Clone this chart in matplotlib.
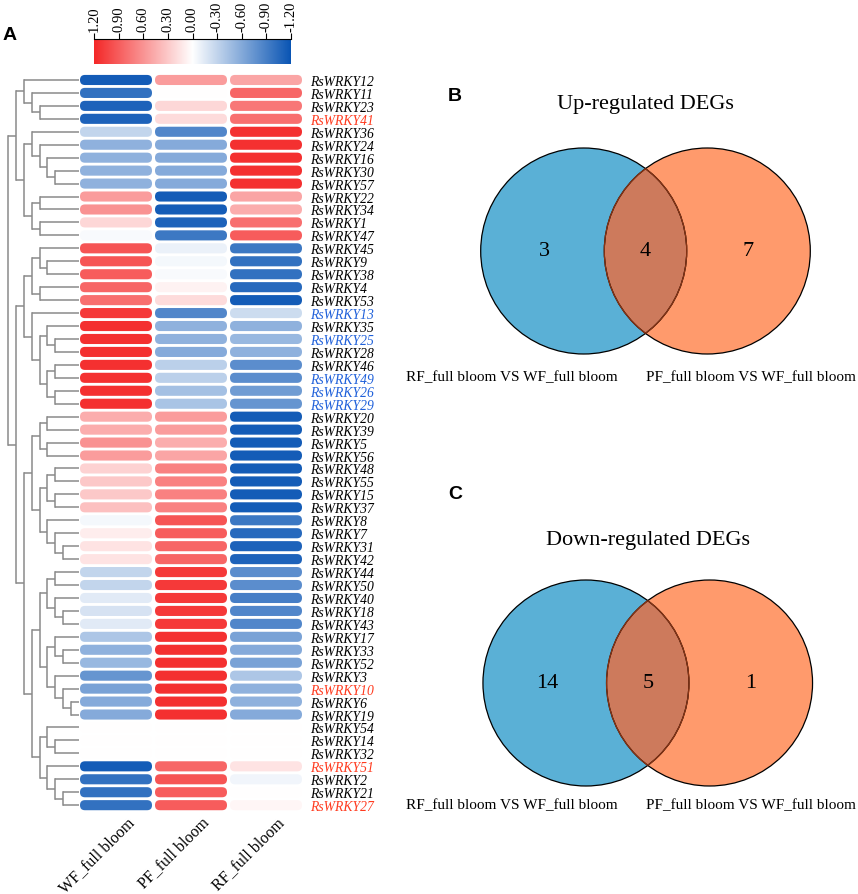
import numpy as np
import matplotlib
matplotlib.use("Agg")
import matplotlib.pyplot as plt
from matplotlib.colors import LinearSegmentedColormap, Normalize
from matplotlib.patches import FancyBboxPatch, Circle

plt.rcParams["axes.unicode_minus"] = False
SERIF = "Liberation Serif"
SANS = "Liberation Sans"

# ---- heatmap data (row order as shown, top to bottom) ----
genes = ["RsWRKY12", "RsWRKY11", "RsWRKY23", "RsWRKY41", "RsWRKY36", "RsWRKY24",
         "RsWRKY16", "RsWRKY30", "RsWRKY57", "RsWRKY22", "RsWRKY34", "RsWRKY1",
         "RsWRKY47", "RsWRKY45", "RsWRKY9", "RsWRKY38", "RsWRKY4", "RsWRKY53",
         "RsWRKY13", "RsWRKY35", "RsWRKY25", "RsWRKY28", "RsWRKY46", "RsWRKY49",
         "RsWRKY26", "RsWRKY29", "RsWRKY20", "RsWRKY39", "RsWRKY5", "RsWRKY56",
         "RsWRKY48", "RsWRKY55", "RsWRKY15", "RsWRKY37", "RsWRKY8", "RsWRKY7",
         "RsWRKY31", "RsWRKY42", "RsWRKY44", "RsWRKY50", "RsWRKY40", "RsWRKY18",
         "RsWRKY43", "RsWRKY17", "RsWRKY33", "RsWRKY52", "RsWRKY3", "RsWRKY10",
         "RsWRKY6", "RsWRKY19", "RsWRKY54", "RsWRKY14", "RsWRKY32", "RsWRKY51",
         "RsWRKY2", "RsWRKY21", "RsWRKY27"]
red_genes = ["RsWRKY41", "RsWRKY10", "RsWRKY51", "RsWRKY27"]
blue_genes = ["RsWRKY13", "RsWRKY25", "RsWRKY49", "RsWRKY26", "RsWRKY29"]
samples = ["WF_full bloom", "PF_full bloom", "RF_full bloom"]

wf = [-1.15, -1.0, -1.1, -1.1, -0.3, -0.55, -0.55, -0.55, -0.55, 0.55, 0.6, 0.22,
      -0.03, 0.95, 0.95, 0.9, 0.85, 0.8, 1.1, 1.15, 1.15, 1.15, 1.15, 1.15,
      1.15, 1.15, 0.45, 0.45, 0.6, 0.55, 0.25, 0.3, 0.3, 0.35, -0.05, 0.1,
      0.15, 0.15, -0.3, -0.3, -0.15, -0.2, -0.15, -0.4, -0.55, -0.5, -0.75, -0.65,
      -0.6, -0.6, 0.0, 0.0, 0.0, -1.15, -1.0, -1.0, -1.0]
pf = [0.55, 0.0, 0.22, 0.2, -0.85, -0.6, -0.6, -0.6, -0.6, -1.15, -1.15, -1.1,
      -0.95, -0.1, -0.05, -0.03, 0.07, 0.2, -0.85, -0.55, -0.55, -0.6, -0.33, -0.33,
      -0.45, -0.42, 0.55, 0.55, 0.45, 0.5, 0.7, 0.7, 0.7, 0.7, 0.95, 0.9,
      0.85, 0.85, 1.1, 1.1, 1.1, 1.1, 1.1, 1.15, 1.15, 1.15, 1.15, 1.15,
      1.15, 1.15, 0.0, 0.0, 0.0, 0.85, 0.95, 0.9, 0.9]
rf = [0.5, 0.85, 0.75, 0.8, 1.15, 1.15, 1.15, 1.15, 1.15, 0.5, 0.45, 0.8,
      0.9, -0.95, -1.0, -1.0, -1.05, -1.15, -0.25, -0.55, -0.5, -0.55, -0.8, -0.8,
      -0.7, -0.75, -1.15, -1.15, -1.15, -1.15, -1.15, -1.15, -1.15, -1.15, -0.95, -1.05,
      -1.1, -1.1, -0.8, -0.8, -0.9, -0.85, -0.85, -0.65, -0.6, -0.65, -0.4, -0.55,
      -0.55, -0.6, 0.0, 0.0, 0.0, 0.15, -0.07, 0.0, 0.05]

# row dendrogram, leaves are row indices
tree = [
    [[0, [1, [2, 3]]], [[4, [5, [6, [7, 8]]]], [[9, 10], [11, 12]]]],
    [
        [[[13, [14, 15]], [16, 17]], [18, [[19, [20, 21]], [[22, 23], [24, 25]]]]],
        [
            [[[26, 27], [28, 29]], [[[30, 31], [32, 33]], [34, [35, [36, 37]]]]],
            [
                [[[38, 39], [40, [41, 42]]], [[43, [44, 45]], [46, [47, [48, 49]]]]],
                [[50, [51, 52]], [53, [54, [55, 56]]]],
            ],
        ],
    ],
]
LEAF_DEPTH = 9

# ---- venn data ----
venn_sets = ["RF_full bloom VS WF_full bloom", "PF_full bloom VS WF_full bloom"]
up_counts = [3, 4, 7]
down_counts = [14, 5, 1]

W, H = 858, 895
fig = plt.figure(figsize=(W / 100, H / 100), dpi=100)


def axes_px(x0, y0, x1, y1):
    return fig.add_axes([x0 / W, 1 - y1 / H, (x1 - x0) / W, (y1 - y0) / H])


cmap = LinearSegmentedColormap.from_list(
    "rwb", ["#0A55B4", "#FFFFFF", "#F42828"])
norm = Normalize(vmin=-1.2, vmax=1.2)

# ---- heatmap ----
n = len(genes)
top_px, row_px = 74.5, 12.95
ax = axes_px(78.5, top_px, 303.5, top_px + n * row_px)
mat = np.array([wf, pf, rf]).T
for i in range(n):
    for j in range(3):
        box = FancyBboxPatch((j - 0.48, i - 0.39), 0.96, 0.78,
                             boxstyle="round,pad=0,rounding_size=0.066",
                             mutation_aspect=75 / row_px,
                             fc=cmap(norm(mat[i, j])), ec="none")
        ax.add_patch(box)
ax.set_xlim(-0.5, 2.5)
ax.set_ylim(n - 0.5, -0.5)
for s in ax.spines.values():
    s.set_visible(False)
ax.yaxis.tick_right()
ax.set_yticks(range(n))
ax.set_yticklabels(genes, fontsize=9.8, family=SERIF, style="italic")
ax.tick_params(axis="y", length=0, pad=5)
for lab in ax.get_yticklabels():
    g = lab.get_text()
    if g in red_genes:
        lab.set_color("#FF3A1E")
    elif g in blue_genes:
        lab.set_color("#1F60DA")
ax.set_xticks([])
for j, name in enumerate(samples):
    ax.annotate(name, xy=(j + 0.1, 0), xycoords=("data", "axes fraction"),
                xytext=(2, -1.5), textcoords="offset points",
                rotation=45, ha="right", va="top", rotation_mode="anchor",
                fontsize=11.5, family=SERIF)

# ---- dendrogram ----
dax = axes_px(8.3, top_px, 78.8, top_px + n * row_px)
dax.set_xlim(0, LEAF_DEPTH)
dax.set_ylim(n - 0.5, -0.5)
dax.axis("off")
LC = "#8A8A8A"


def draw_node(node, depth):
    if isinstance(node, int):
        return node, LEAF_DEPTH
    ys = []
    for child in node:
        yc, xc = draw_node(child, depth + 1)
        dax.plot([depth, xc], [yc, yc], color=LC, lw=1.1,
                 solid_capstyle="butt", clip_on=False)
        ys.append(yc)
    dax.plot([depth, depth], [ys[0], ys[1]], color=LC, lw=1.1,
             solid_capstyle="projecting", clip_on=False)
    return sum(ys) / 2, depth


draw_node(tree, 0)

# ---- colour bar ----
cax = axes_px(94, 40, 291, 65)
grad = np.linspace(1.2, -1.2, 256)[None, :]
cax.imshow(grad, aspect="auto", cmap=cmap, norm=norm,
           extent=[1.2, -1.2, 0, 1])
cax.set_xlim(1.2, -1.2)
cticks = [1.2, 0.9, 0.6, 0.3, 0.0, -0.3, -0.6, -0.9, -1.2]
cax.set_xticks(cticks)
cax.set_xticklabels(["%.2f" % t for t in cticks], rotation=90,
                    fontsize=10.5, family=SERIF)
cax.xaxis.tick_top()
cax.tick_params(axis="x", length=4, width=0.8, pad=2)
cax.set_yticks([])
for k, s in cax.spines.items():
    s.set_visible(k == "top")
cax.spines["top"].set_linewidth(0.8)

# ---- venn diagrams ----
R_PX = 103.0
SEP = 1.2
BLUE, ORANGE, MIX = "#5AB0D6", "#FF9A6C", "#CD7A5C"


def venn(cx, cy, title, title_y, counts, label_y):
    vax = axes_px(cx - 200, cy - 125, cx + 200, cy + 125)
    vax.set_xlim(-200 / R_PX, 200 / R_PX)
    vax.set_ylim(-125 / R_PX, 125 / R_PX)
    vax.set_aspect("equal")
    vax.axis("off")
    left = Circle((-SEP / 2, 0), 1, fc=BLUE, ec="none")
    right = Circle((SEP / 2, 0), 1, fc=ORANGE, ec="none")
    vax.add_patch(left)
    vax.add_patch(right)
    lens = Circle((SEP / 2, 0), 1, fc=MIX, ec="none")
    vax.add_patch(lens)
    lens.set_clip_path(left)
    for c in (-SEP / 2, SEP / 2):
        vax.add_patch(Circle((c, 0), 1, fc="none", ec="black", lw=0.9))
    arc1 = Circle((-SEP / 2, 0), 1, fc="none", ec="#8A3414", lw=0.9)
    vax.add_patch(arc1)
    arc1.set_clip_path(right)
    arc2 = Circle((SEP / 2, 0), 1, fc="none", ec="#8A3414", lw=0.9)
    vax.add_patch(arc2)
    arc2.set_clip_path(Circle((-SEP / 2, 0), 1, transform=vax.transData))
    for xpos, cnt in zip([-0.98, 0.0, 1.0], counts):
        vax.text(xpos, 0, str(cnt), ha="center", va="center",
                 fontsize=16, family=SERIF)
    fig.text(cx / W, 1 - title_y / H, title, ha="center", va="center",
             fontsize=16, family=SERIF)
    fig.text(512 / W, 1 - label_y / H, venn_sets[0], ha="center",
             va="center", fontsize=11, family=SERIF)
    fig.text(751 / W, 1 - label_y / H, venn_sets[1], ha="center",
             va="center", fontsize=11, family=SERIF)


venn(645.5, 252, "Up-regulated DEGs", 105, up_counts, 378)
venn(647.75, 684, "Down-regulated DEGs", 541, down_counts, 806)

# panel letters
for letter, x, y in [("A", 10, 35), ("B", 455, 97), ("C", 455, 495)]:
    fig.text(x / W, 1 - y / H, letter, ha="center", va="center",
             fontsize=14, weight="bold", family=SANS)

fig.savefig("out.png", dpi=100)
